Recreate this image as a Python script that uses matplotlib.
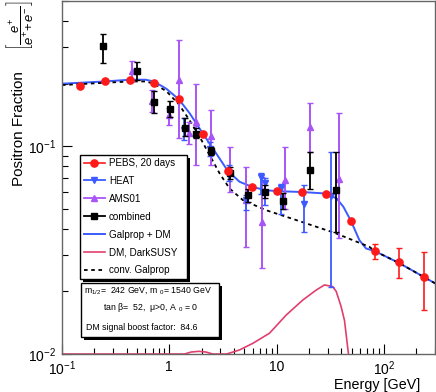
import matplotlib
matplotlib.use("Agg")
import matplotlib.pyplot as plt
from matplotlib.lines import Line2D
from matplotlib.patches import Rectangle
from matplotlib.ticker import FixedLocator, FixedFormatter, NullFormatter, LogLocator
import numpy as np

plt.rcParams['font.family'] = ['Liberation Sans', 'DejaVu Sans']
plt.rcParams['mathtext.fontset'] = 'custom'
plt.rcParams['mathtext.rm'] = 'Liberation Sans'
plt.rcParams['mathtext.it'] = 'Liberation Sans:italic'
plt.rcParams['mathtext.bf'] = 'Liberation Sans:bold'
plt.rcParams['mathtext.sf'] = 'Liberation Sans'

# ---------------- data ----------------
pebs_E = [0.147, 0.251, 0.429, 0.717, 1.23, 2.06, 3.52, 5.94, 10.1, 17.2, 29.0, 49.5, 82.2, 139, 238]
pebs_f = [0.194, 0.205, 0.208, 0.202, 0.168, 0.115, 0.0759, 0.0637, 0.0608, 0.0602, 0.0592, 0.0436, 0.0313, 0.0277, 0.0235]
pebs_lo = [0.194, 0.205, 0.208, 0.202, 0.168, 0.115, 0.0759, 0.0637, 0.0608, 0.0602, 0.0592, 0.0436, 0.0287, 0.0232, 0.0163]
pebs_hi = [0.194, 0.205, 0.208, 0.202, 0.168, 0.115, 0.0759, 0.0637, 0.0608, 0.0602, 0.0592, 0.0436, 0.0340, 0.0322, 0.0310]

heat_E = [1.38, 2.4, 3.6, 5.2, 7.1, 7.85, 11.1, 18.2, 32.3]
heat_f = [0.120, 0.097, 0.074, 0.055, 0.0712, 0.0668, 0.0626, 0.0525, 0.0575]
heat_lo = [0.107, 0.090, 0.068, 0.0494, 0.059, 0.052, 0.0474, 0.0387, 0.021]
heat_hi = [0.136, 0.105, 0.081, 0.058, 0.074, 0.070, 0.066, 0.0648, 0.094]

ams_E = [0.445, 0.692, 1.0, 1.234, 1.528, 1.764, 2.47, 3.65, 5.2, 7.36, 11.9, 20.6, 38.5]
ams_f = [0.230, 0.165, 0.141, 0.209, 0.116, 0.131, 0.112, 0.077, 0.055, 0.0432, 0.0686, 0.124, 0.0692]
ams_lo = [0.205, 0.146, 0.126, 0.109, 0.103, 0.081, 0.081, 0.060, 0.0328, 0.0258, 0.050, 0.0939, 0.036]
ams_hi = [0.258, 0.186, 0.152, 0.324, 0.131, 0.200, 0.150, 0.099, 0.0795, 0.071, 0.099, 0.161, 0.145]

comb_E = [0.239, 0.495, 0.718, 1.026, 1.394, 1.79, 2.47, 3.65, 5.41, 7.73, 11.5, 20.6, 35.9]
comb_f = [0.3025, 0.230, 0.164, 0.1506, 0.123, 0.115, 0.095, 0.074, 0.0583, 0.0603, 0.0546, 0.0767, 0.0614]
comb_lo = [0.2526, 0.2077, 0.145, 0.138, 0.1117, 0.109, 0.0905, 0.0699, 0.054, 0.0561, 0.0496, 0.0621, 0.0387]
comb_hi = [0.348, 0.254, 0.184, 0.1646, 0.1374, 0.122, 0.0992, 0.0795, 0.0625, 0.0648, 0.0596, 0.0939, 0.0939]

gdm_E = [0.1, 0.147, 0.25, 0.43, 0.6, 0.72, 0.94, 1.23, 1.55, 2.06, 2.75, 3.52, 4.53, 5.94, 8.0, 10.1,
         17.2, 29.0, 36.4, 42.0, 49.5, 59.2, 68.3, 82.2, 139, 300]
gdm_f = [0.200, 0.202, 0.205, 0.209, 0.209, 0.205, 0.189, 0.168, 0.144, 0.115, 0.092, 0.0759, 0.0674,
         0.0637, 0.0614, 0.0608, 0.0602, 0.0592, 0.056, 0.0511, 0.0436, 0.0353, 0.0322, 0.0313, 0.0274, 0.0219]

conv_E = [0.1, 0.147, 0.25, 0.43, 0.6, 0.72, 0.94, 1.23, 1.55, 1.92, 2.38, 2.95, 3.65, 4.86, 8.0, 14.7,
          34.7, 73.3, 82.2, 139, 300]
conv_f = [0.197, 0.199, 0.202, 0.205, 0.205, 0.200, 0.184, 0.159, 0.133, 0.111, 0.0905, 0.0739, 0.0626,
          0.055, 0.0492, 0.0444, 0.0383, 0.0328, 0.0313, 0.0274, 0.0219]

dm_E = [0.1, 1.39, 1.6, 1.88, 2.2, 2.54, 3.43, 4.5, 6.02, 8.61, 12.3, 17.6, 23.4, 28.0, 33.4, 36.0, 40.0,
        43.0, 46.0, 48.0]
dm_f = [0.0100, 0.0100, 0.01022, 0.0103, 0.01022, 0.0100, 0.0100, 0.01045, 0.01126, 0.0126, 0.0154,
        0.0182, 0.0203, 0.0215, 0.0211, 0.0200, 0.0169, 0.0145, 0.0108, 0.0090]

x_ticks = [0.1, 1, 10, 100]
x_ticklabels = ['$10^{-1}$', '1', '10', '$10^{2}$']
y_ticks = [0.01, 0.1]
y_ticklabels = ['$10^{-2}$', '$10^{-1}$']

legend_labels = ['PEBS, 20 days', 'HEAT', 'AMS01', 'combined', 'Galprop + DM', 'DM, DarkSUSY', 'conv. Galprop']
info_lines = ['m$_{1/2}$=  242 GeV, m$_{\\;\\;0}$= 1540 GeV',
              'tan β=  52,  μ>0, A$_{\\;\\;0}$ = 0',
              'DM signal boost factor:  84.6']

# ---------------- style ----------------
RED = '#ff1a1a'
BLUE = '#3c5aff'
PURPLE = '#a855f7'
PINK = '#e0406e'

W, H = 436, 392
fig = plt.figure(figsize=(W / 100, H / 100), dpi=100)
ax = fig.add_axes([62 / W, 38 / H, 373 / W, 353 / H])
ax.set_xscale('log')
ax.set_yscale('log')
ax.set_xlim(0.1, 300)
ax.set_ylim(0.01, 0.5)

ax.plot(dm_E, dm_f, color=PINK, lw=1.2, zorder=2)
ax.plot(conv_E, conv_f, color='black', lw=1.3, ls=(0, (2, 2)), zorder=2.2)
ax.plot(gdm_E, gdm_f, color=BLUE, lw=1.4, zorder=2.1)


def eb(E, f, lo, hi, **kw):
    f = np.array(f); lo = np.array(lo); hi = np.array(hi)
    ax.errorbar(E, f, yerr=[f - lo, hi - f], ls='none', capsize=2, **kw)


eb(ams_E, ams_f, ams_lo, ams_hi, color=PURPLE, marker='^', ms=4.8, elinewidth=1.4, capthick=1.0, zorder=3)
eb(heat_E, heat_f, heat_lo, heat_hi, color=BLUE, marker='v', ms=4.8, elinewidth=1.3, capthick=1.0, zorder=3.1)
eb(comb_E, comb_f, comb_lo, comb_hi, color='black', marker='s', ms=4.2, elinewidth=1.3, capthick=1.0, zorder=3.2)
eb(pebs_E, pebs_f, pebs_lo, pebs_hi, color=RED, marker='o', ms=5.2, elinewidth=1.2, capthick=1.0, zorder=4)

for s in ax.spines.values():
    s.set_color('#666666')
    s.set_linewidth(1.0)

ax.xaxis.set_major_locator(FixedLocator(x_ticks))
ax.xaxis.set_major_formatter(FixedFormatter(x_ticklabels))
ax.yaxis.set_major_locator(FixedLocator(y_ticks))
ax.yaxis.set_major_formatter(FixedFormatter(y_ticklabels))
ax.xaxis.set_minor_locator(LogLocator(base=10, subs=np.arange(2, 10)))
ax.yaxis.set_minor_locator(LogLocator(base=10, subs=np.arange(2, 10)))
ax.xaxis.set_minor_formatter(NullFormatter())
ax.yaxis.set_minor_formatter(NullFormatter())
ax.tick_params(which='both', direction='in', top=False, right=False, color='black', width=0.8, labelsize=10)
ax.tick_params(which='major', length=7.5)
ax.tick_params(which='minor', length=4.5)
ax.tick_params(axis='x', which='major', pad=4)
ax.tick_params(axis='y', which='major', pad=4)

fig.text(420 / W, 1 - 384.5 / H, 'Energy [GeV]', ha='right', va='center', fontsize=10.3)
fig.text(19 / W, 1 - 129 / H, 'Positron Fraction', rotation=90, ha='center', va='center', fontsize=11)
fig.text(19.5 / W, 1 - 26 / H, r'$\left[\dfrac{e^{+}}{e^{+}\!+e^{-}}\right]$', rotation=90,
         ha='center', va='center', fontsize=9.4)


def box(x0, y0, x1, y1, off=3):
    sh = Rectangle(((x0 + off) / W, 1 - (y1 + off) / H), (x1 - x0) / W, (y1 - y0) / H,
                   transform=fig.transFigure, facecolor='black', edgecolor='black', lw=0, zorder=5)
    fr = Rectangle((x0 / W, 1 - y1 / H), (x1 - x0) / W, (y1 - y0) / H,
                   transform=fig.transFigure, facecolor='white', edgecolor='black', lw=1.0, zorder=5.5)
    fig.add_artist(sh)
    fig.add_artist(fr)


box(80, 155, 187, 279)
box(81, 283, 219, 337)

handles = [
    Line2D([], [], color=RED, marker='o', ms=5.2, lw=1.2),
    Line2D([], [], color=BLUE, marker='v', ms=4.8, lw=1.3),
    Line2D([], [], color=PURPLE, marker='^', ms=4.8, lw=1.3),
    Line2D([], [], color='black', marker='s', ms=4.2, lw=1.3),
    Line2D([], [], color=BLUE, lw=1.4),
    Line2D([], [], color=PINK, lw=1.2),
    Line2D([], [], color='black', lw=1.3, ls=(0, (2, 2))),
]
leg = fig.legend(handles, legend_labels, loc='upper left', bbox_to_anchor=(82 / W, 1 - 156 / H),
                 bbox_transform=fig.transFigure, frameon=False, fontsize=7.1, handlelength=2.1,
                 handletextpad=0.45, labelspacing=0.8, borderpad=0.2, borderaxespad=0)
leg.set_zorder(7)

fig.text(84 / W, 1 - 290 / H, info_lines[0], ha='left', va='center', fontsize=6.3, zorder=8)
fig.text(103 / W, 1 - 308 / H, info_lines[1], ha='left', va='center', fontsize=6.3, zorder=8)
fig.text(86 / W, 1 - 328 / H, info_lines[2], ha='left', va='center', fontsize=6.3, zorder=8)

fig.savefig('out.png', dpi=100)
